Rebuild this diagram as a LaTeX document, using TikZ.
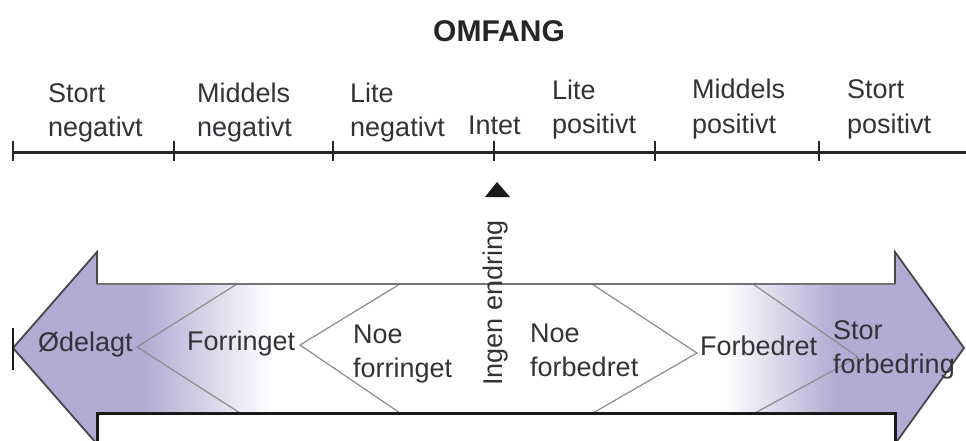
\documentclass[tikz,border=0pt]{standalone}
\usepackage{fontspec}
\setmainfont{Liberation Sans}
\definecolor{lav}{RGB}{179,171,212}
\definecolor{ink}{RGB}{50,50,55}
\definecolor{rim}{RGB}{70,70,75}
\begin{document}
\begin{tikzpicture}[x=1pt,y=-1pt,
  lbl/.style={font=\fontsize{27}{34}\selectfont, text=ink, inner sep=0pt, align=left, anchor=base west},
  ttl/.style={font=\fontsize{30}{36}\selectfont\bfseries, text=black!85, inner sep=0pt, anchor=base},
  axis/.style={line width=3pt, draw=black!85},
  tickmark/.style={line width=2.6pt, draw=black!85},
  chev/.style={line width=1.2pt, draw=black!45, line join=miter},
  headedge/.style={line width=1.8pt, draw=rim, line join=miter},
  topedge/.style={line width=2.4pt, draw=black!55},
  botedge/.style={line width=3pt, draw=black!90},
]
\useasboundingbox (0,0) rectangle (966,441);

% title
\node[ttl] (title) at (499,42) {OMFANG};

% scale
\foreach \n/\x in {0/13,1/174,2/333,3/494,4/655,5/819}{
  \coordinate (t\n) at (\x,152);
  \coordinate (t\n a) at (\x,141);
  \coordinate (t\n b) at (\x,161);
}
\coordinate (tend) at (966,152);
\draw[axis] (t0) -- (tend);
\foreach \n in {0,...,5}{ \draw[tickmark] (t\n a) -- (t\n b); }

% (base anchor of a two-line node = baseline of its last line)
\node[lbl] (l1) at (48,136) {Stort\\negativt};
\node[lbl] (l2) at (197,136) {Middels\\negativt};
\node[lbl] (l3) at (350,136) {Lite\\negativt};
\node[lbl] (l4) at (468,135) {Intet};
\node[lbl] (l5) at (552,134) {Lite\\positivt};
\node[lbl] (l6) at (692,133) {Middels\\positivt};
\node[lbl] (l7) at (847,133) {Stort\\positivt};

% pointer triangle
\coordinate (pa) at (497,182);
\fill[black!90] (pa) -- (485,197) -- (510,197) -- cycle;

% big double arrow: fill
\begin{scope}
\clip (13,348) -- (97,252) -- (97,284) -- (895,284) -- (895,252) -- (964,348)
      -- (895,444) -- (895,413) -- (97,413) -- (97,444) -- cycle;
\fill[lav] (0,240) rectangle (145,450);
\shade[left color=lav,right color=white] (145,240) rectangle (272,450);
\shade[left color=white,right color=lav] (725,240) rectangle (835,450);
\fill[lav] (835,240) rectangle (966,450);
\end{scope}

% chevrons
\coordinate (cA) at (137,347);
\coordinate (cB) at (300,345);
\coordinate (cC) at (697,353);
\coordinate (cD) at (858,357);
\draw[chev] (237,284) -- (cA) -- (240,413);
\draw[chev] (400,284) -- (cB) -- (400,413);
\draw[chev] (592,284) -- (cC) -- (593,413);
\draw[chev] (753,284) -- (cD) -- (755,413);

% arrow outline
\coordinate (lt) at (13,348);
\coordinate (rt) at (964,348);
\draw[headedge] (97,284) -- (97,252) -- (lt) -- (97,444);
\draw[headedge] (895,284) -- (895,252) -- (rt) -- (895,444);
\draw[topedge] (97,284) -- (895,284);
\draw[botedge] (97,444) -- (97,413) -- (895,413) -- (895,444);
\draw[line width=2.4pt, draw=black!90] (13,328) -- (13,370);

% labels in arrow
\node[lbl] (a1) at (38,351) {Ødelagt};
\node[lbl] (a2) at (187,350) {Forringet};
\node[lbl] (a3) at (353,377) {Noe\\forringet};
\node[lbl] (a4) at (530,376) {Noe\\forbedret};
\node[lbl] (a5) at (700,355) {Forbedret};
\node[lbl] (a6) at (833,373) {Stor\\forbedring};

\node[font=\fontsize{27}{34}\selectfont, text=ink, inner sep=0pt, rotate=90, anchor=base] (ie) at (502,303) {Ingen endring};
\end{tikzpicture}
\end{document}
